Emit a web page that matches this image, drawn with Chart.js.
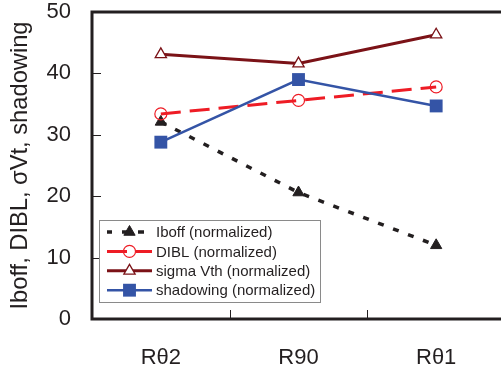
<!DOCTYPE html>
<html><head><meta charset="utf-8">
<script src="https://cdn.jsdelivr.net/npm/chart.js@4/dist/chart.umd.min.js"></script>
<style>html,body{margin:0;padding:0;background:#fff;overflow:hidden}#wrap{width:520px;height:374px;position:relative}</style>
</head><body><div id="wrap"><canvas id="c" width="520" height="374"></canvas></div>
<script>
const categories = ['Rθ2', 'R90', 'Rθ1'];
const yTicks = [0, 10, 20, 30, 40, 50];
const iboff = [32.1, 20.6, 12.0];
const dibl = [33.4, 35.6, 37.8];
const sigmaVth = [43.1, 41.6, 46.3];
const shadowing = [28.8, 39.0, 34.7];
const seriesNames = ['Iboff (normalized)', 'DIBL (normalized)', 'sigma Vth (normalized)', 'shadowing (normalized)'];
const yTitle = 'Iboff, DIBL, σVt, shadowing';

const FONT = "'Liberation Sans', Arial, sans-serif";

const framePlugin = {
  id: 'frame',
  beforeDatasetsDraw(chart) {
    const {ctx, chartArea: ca, scales} = chart;
    ctx.save();
    ctx.strokeStyle = '#231f20';
    ctx.lineWidth = 1;
    scales.y.ticks.forEach(t => {
      const y = Math.round(scales.y.getPixelForValue(t.value)) + 0.5;
      ctx.beginPath(); ctx.moveTo(ca.left, y); ctx.lineTo(ca.left + 9, y); ctx.stroke();
    });
    for (let i = 1; i < categories.length; i++) {
      const x = Math.round((scales.x.getPixelForValue(i - 1) + scales.x.getPixelForValue(i)) / 2) + 0.5;
      ctx.beginPath(); ctx.moveTo(x, ca.bottom); ctx.lineTo(x, ca.bottom - 9); ctx.stroke();
    }
    ctx.lineWidth = 3;
    ctx.strokeRect(ca.left, ca.top, ca.right - ca.left, ca.bottom - ca.top);
    ctx.restore();
  }
};

const legendPlugin = {
  id: 'customLegend',
  afterDraw(chart) {
    const ctx = chart.ctx;
    const bx = 99.5, by = 220.5, bw = 221, bh = 82;
    ctx.save();
    ctx.fillStyle = '#fff';
    ctx.fillRect(bx, by, bw, bh);
    ctx.strokeStyle = '#8a8a8a';
    ctx.lineWidth = 1;
    ctx.strokeRect(bx, by, bw, bh);
    chart.data.datasets.forEach((ds, i) => {
      const y = 232 + i * 19.4;
      ctx.save();
      ctx.strokeStyle = ds.borderColor;
      ctx.lineWidth = ds.borderWidth;
      ctx.setLineDash(ds.borderDash || []);
      ctx.lineDashOffset = ds.legendDashOffset || 0;
      ctx.beginPath(); ctx.moveTo(107, y); ctx.lineTo(152, y); ctx.stroke();
      ctx.setLineDash([]);
      ctx.fillStyle = ds.pointBackgroundColor;
      ctx.strokeStyle = ds.pointBorderColor;
      ctx.lineWidth = ds.pointBorderWidth;
      Chart.helpers.drawPoint(ctx, {pointStyle: ds.pointStyle, radius: ds.pointRadius, borderWidth: ds.pointBorderWidth, rotation: 0}, 129.5, y);
      ctx.restore();
      ctx.fillStyle = '#231f20';
      ctx.font = '15px ' + FONT;
      ctx.textBaseline = 'middle';
      ctx.textAlign = 'left';
      ctx.fillText(seriesNames[i], 156, y + 1);
    });
    ctx.restore();
  }
};

function noPad(s) { s.paddingTop = 0; s.paddingBottom = 0; s.paddingLeft = 0; s.paddingRight = 0; }

new Chart(document.getElementById('c'), {
  type: 'line',
  data: {
    labels: categories,
    datasets: [
      {label: seriesNames[0], data: iboff, borderColor: '#231f20', borderWidth: 3.5, borderDash: [6, 10],
       pointStyle: 'triangle', pointRadius: 6.5, pointBackgroundColor: '#231f20', pointBorderColor: '#231f20', pointBorderWidth: 1, order: 4, legendDashOffset: 1},
      {label: seriesNames[1], data: dibl, borderColor: '#ee1c25', borderWidth: 3, borderDash: [20, 9],
       pointStyle: 'circle', pointRadius: 6, pointBackgroundColor: 'rgba(255,255,255,0)', pointBorderColor: '#ee1c25', pointBorderWidth: 1.2, order: 3},
      {label: seriesNames[2], data: sigmaVth, borderColor: '#7b1217', borderWidth: 3,
       pointStyle: 'triangle', pointRadius: 6.5, pointBackgroundColor: '#ffffff', pointBorderColor: '#7b1217', pointBorderWidth: 1.3, order: 2},
      {label: seriesNames[3], data: shadowing, borderColor: '#3454a6', borderWidth: 2.5,
       pointStyle: 'rect', pointRadius: 9.1, pointBackgroundColor: '#3454a6', pointBorderColor: '#3454a6', pointBorderWidth: 0, order: 1}
    ]
  },
  options: {
    responsive: false,
    animation: false,
    devicePixelRatio: 1,
    layout: {padding: {left: 0, top: 12, right: 15, bottom: 0}},
    plugins: {legend: {display: false}, tooltip: {enabled: false}},
    elements: {line: {tension: 0}},
    scales: {
      x: {
        type: 'category', offset: true,
        grid: {display: false, drawTicks: false}, border: {display: false},
        ticks: {padding: 26, color: '#231f20', font: {family: FONT, size: 22}},
        afterFit(s) { s.height = 55; noPad(s); }
      },
      y: {
        min: 0, max: 50,
        grid: {display: false, drawTicks: false}, border: {display: false},
        afterBuildTicks(s) { s.ticks = yTicks.map(v => ({value: v})); },
        ticks: {padding: 21, color: '#231f20', font: {family: FONT, size: 22}},
        title: {display: true, text: yTitle, color: '#231f20', font: {family: FONT, size: 23.7}, padding: {top: 6, bottom: 0}},
        afterFit(s) { s.width = 92; noPad(s); }
      }
    }
  },
  plugins: [framePlugin, legendPlugin]
});
</script>
</body></html>
